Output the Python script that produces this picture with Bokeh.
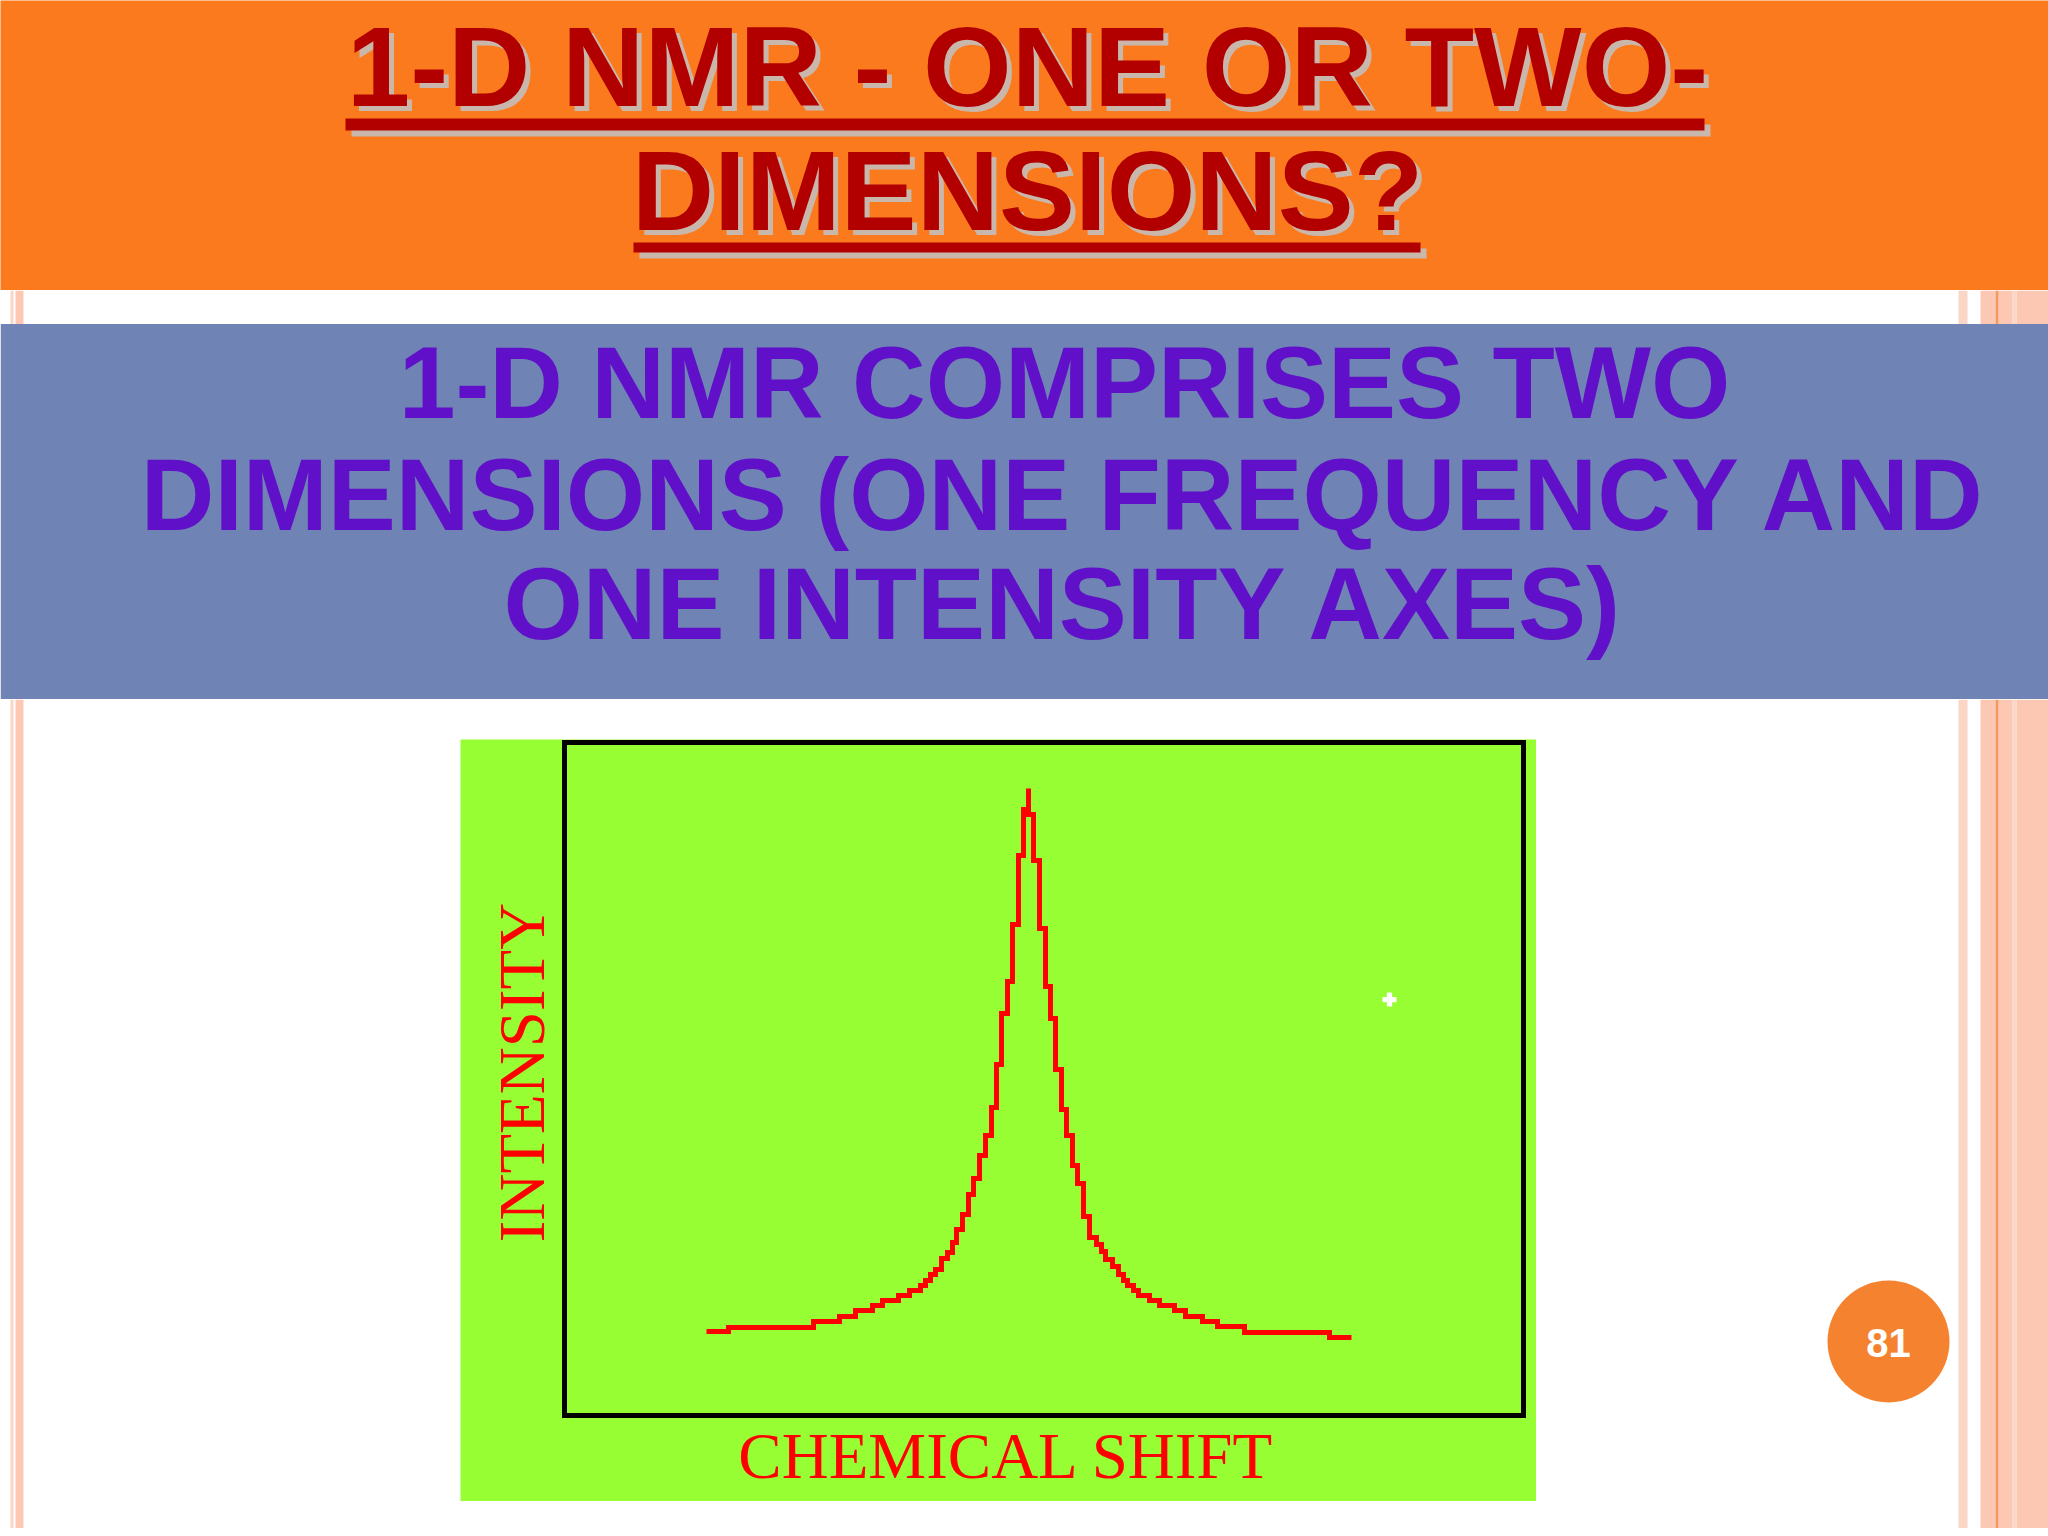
from bokeh.plotting import figure
from bokeh.models import Range1d, Spacer
from bokeh.layouts import column, row
from bokeh.embed import file_html
from bokeh.resources import INLINE
from bokeh.core.properties import value
import math

# ---------------- data ----------------
title_lines = ["1-D NMR - ONE OR TWO-", "DIMENSIONS?"]
body_lines = ["1-D NMR COMPRISES TWO", "DIMENSIONS (ONE FREQUENCY AND", "ONE INTENSITY AXES)"]
x_label = "CHEMICAL SHIFT"
y_label = "INTENSITY"
page_number = "81"

# stepped (bitmap-like) NMR peak, arbitrary units
shift = [142, 164, 249, 275, 291, 308, 318, 334, 345, 356,
         361, 366, 371, 377, 383, 388, 392, 398, 404, 409,
         415, 421, 427, 432, 437, 443, 448, 454, 459, 464,
         464, 469, 475, 481, 486, 491, 497, 502, 508, 513,
         519, 525, 532, 537, 541, 548, 554, 559, 563, 569,
         574, 585, 595, 610, 621, 638, 653, 680, 765, 787]
intensity = [84, 88, 94, 99, 105, 110, 115, 120, 125, 130,
             135, 141, 146, 157, 163, 173, 186, 201, 221, 237,
             260, 280, 308, 351, 402, 434, 491, 560, 606, 627,
             601, 555, 487, 429, 397, 346, 306, 280, 250, 232,
             199, 178, 171, 164, 156, 149, 141, 135, 130, 125,
             120, 115, 110, 105, 99, 94, 89, 83, 78, 78]
shift_max = 959
intensity_max = 673
cursor_shift = [825]
cursor_intensity = [416]

# ---------------- style ----------------
ORANGE = "#FC7A1E"
TITLE_RED = "#B20000"
SHADOW = "#C9B7AB"
BAND = "#6F83B5"
PURPLE = "#6010C8"
GREEN = "#97FE33"
SALMON = "#FCC8B3"
SALMON_L = "#FBD5C6"
STRIPE_OR = "#F5995F"
BADGE = "#F5822F"
BASE_K = 0.37  # baseline correction of the svg text renderer, in em


def bl(y, size):
    """y position for a text whose alphabetic baseline should sit at y (page px, y down)."""
    return y - BASE_K * size


def blank(w, h, x0, x1, y0, y1, bg):
    p = figure(width=w, height=h, x_range=Range1d(x0, x1), y_range=Range1d(y1, y0),
               toolbar_location=None, output_backend="svg",
               x_axis_type=None, y_axis_type=None, min_border=0)
    p.outline_line_color = None
    p.background_fill_color = bg
    p.border_fill_color = bg
    return p


def stripes(p, top, bottom):
    # left edge decoration
    p.quad(left=[10], right=[13], top=[top], bottom=[bottom], fill_color=SALMON_L, line_color=None)
    p.quad(left=[15], right=[23], top=[top], bottom=[bottom], fill_color=SALMON, line_color=None)
    # right edge decoration
    p.quad(left=[1958], right=[1967], top=[top], bottom=[bottom], fill_color=SALMON_L, line_color=None)
    p.quad(left=[1980, 1998, 2016], right=[1995, 2012, 2048], top=[top] * 3, bottom=[bottom] * 3,
           fill_color=SALMON, line_color=None)
    p.quad(left=[2012], right=[2016], top=[top], bottom=[bottom], fill_color=SALMON_L, line_color=None)
    p.quad(left=[1995], right=[1998], top=[top], bottom=[bottom], fill_color=STRIPE_OR, line_color=None)


W = 2048

# ---------------- header ----------------
header = blank(W, 290, 0, W, 0, 290, ORANGE)
TS = 114
tx = [1027, 1027]
ty = [bl(108, TS), bl(232, TS)]
ul_l = [345, 633]
ul_r = [1704, 1420]
ul_t = [118, 242]
ul_b = [130, 252]
header.quad(left=[v + 6 for v in ul_l], right=[v + 6 for v in ul_r], top=[v + 6 for v in ul_t],
            bottom=[v + 6 for v in ul_b], fill_color=SHADOW, line_color=None)
header.text(x=[v + 5 for v in tx], y=[v + 5 for v in ty], text=title_lines,
            text_font=value("Liberation Sans"), text_font_style="bold", text_font_size=f"{TS}px",
            text_color=SHADOW, text_align="center", text_baseline="alphabetic")
header.quad(left=ul_l, right=ul_r, top=ul_t, bottom=ul_b, fill_color=TITLE_RED, line_color=None)
header.text(x=tx, y=ty, text=title_lines,
            text_font=value("Liberation Sans"), text_font_style="bold", text_font_size=f"{TS}px",
            text_color=TITLE_RED, text_align="center", text_baseline="alphabetic")

# ---------------- band ----------------
BS = 102
band = blank(W, 409, 0, W, 290, 699, "white")
stripes(band, 290, 324)
band.quad(left=[0], right=[W], top=[323.5], bottom=[699], fill_color=BAND, line_color=None)
band.text(x=[1064, 1064, 1064], y=[bl(420, BS), bl(532, BS), bl(641, BS)], text=body_lines,
          text_font=value("Liberation Sans"), text_font_style="bold", text_font_size=f"{BS}px",
          text_color=PURPLE, text_align="center", text_baseline="alphabetic")

# ---------------- bottom left / right ----------------
left = blank(460, 829, 0, 460, 699, 1528, "white")
stripes(left, 699, 1528)

right = blank(W - 1536, 829, 1536, W, 699, 1528, "white")
stripes(right, 699, 1528)
right.scatter(x=[1888], y=[1341], size=122, marker="circle", fill_color=BADGE, line_color=None)
right.text(x=[1888], y=[bl(1357, 40)], text=[page_number], text_font=value("Liberation Sans"),
           text_font_style="bold", text_font_size="40px", text_color="white",
           text_align="center", text_baseline="alphabetic")

# ---------------- chart ----------------
# the figure is the green picture; the black box is the intensity/shift data area
chart = figure(width=1076, height=762, x_range=Range1d(-104, 972), y_range=Range1d(-86, 676),
               toolbar_location=None, output_backend="svg", x_axis_type=None, y_axis_type=None,
               min_border=0)
chart.background_fill_color = GREEN
chart.border_fill_color = GREEN
chart.outline_line_color = None
chart.quad(left=[0], right=[shift_max], bottom=[0], top=[intensity_max],
           fill_color=None, line_color="black", line_width=5, line_join="miter")
chart.step(shift, intensity, mode="after", line_color="#FF0000", line_width=5, line_join="miter")
chart.scatter(cursor_shift, cursor_intensity, marker="plus", size=14, fill_color="white", line_color=None)
LS = 65
chart.text(x=[-18 - BASE_K * LS], y=[343], text=[y_label], angle=math.pi / 2,
           text_font=value("Liberation Serif"), text_font_size=f"{LS}px", text_color="#FF0000",
           text_align="center", text_baseline="alphabetic")
chart.text(x=[442], y=[-65 + BASE_K * LS], text=[x_label],
           text_font=value("Liberation Serif"), text_font_size=f"{LS}px", text_color="#FF0000",
           text_align="center", text_baseline="alphabetic")

middle = column(Spacer(width=1076, height=40), chart, Spacer(width=1076, height=27))
layout = column(header, band, row(left, middle, right))

open("out.html", "w").write(file_html(layout, INLINE))
